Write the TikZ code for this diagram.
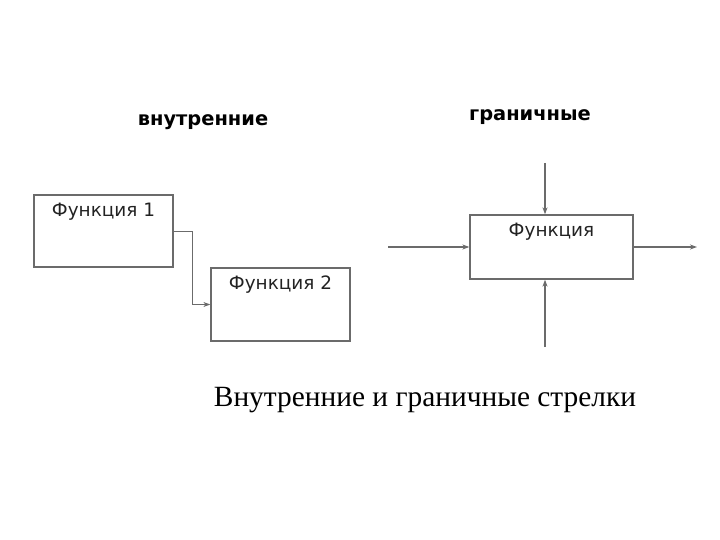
\documentclass[tikz,border=0pt]{standalone}
\usepackage{fontspec}
\setmainfont{Liberation Serif}
\setsansfont{DejaVu Sans}
\usetikzlibrary{arrows.meta, positioning, calc}
\definecolor{cline}{HTML}{6B6B6B}
\definecolor{ctext}{HTML}{222222}
\tikzset{
  every picture/.style={line width=1.3bp},
  box/.style={draw=cline, minimum width=#1, inner sep=0pt},
  box/.default=139bp,
  fn/.style={font=\sffamily\fontsize{18.5}{20}\selectfont, text=ctext, anchor=north, inner sep=8bp},
  arrow/.style={-{Stealth[length=7bp, width=5bp]}, draw=cline},
  title/.style={font=\sffamily\bfseries\fontsize{19.5}{22}\selectfont},
  note/.style={font=\fontsize{29.5}{32}\selectfont},
}
\begin{document}
\begin{tikzpicture}[x=1bp, y=-1bp]
  \useasboundingbox (0,0) rectangle (720,540);
  % internal arrows
  \node[title] (tin) at (203,122) {внутренние};
  \node[box, minimum height=72bp, label={[fn]north:Функция 1}] (f1) at (103.5,231) {};
  \node[box, minimum height=73bp, label={[fn]north:Функция 2}] (f2) at (280.5,304.5) {};
  \draw[arrow, line width=0.9bp] (f1.east) -- ++(19,0) |- (f2.west);
  % boundary arrows
  \node[title] (tbd) at (530,117) {граничные};
  \node[box=163bp, minimum height=64bp, label={[fn]north:Функция}] (f) at (551.5,247) {};
  \coordinate (ctl) at (545,163);
  \coordinate (mech) at (545,347);
  \coordinate (inp) at (388,247);
  \coordinate (out) at (697,247);
  \draw[arrow] (ctl) -- (ctl |- f.north);
  \draw[arrow] (mech) -- (mech |- f.south);
  \draw[arrow] (inp) -- (f.west);
  \draw[arrow] (f.east) -- (out);
  % caption
  \node[note] (cap) at (425,400) {Внутренние и граничные стрелки};
\end{tikzpicture}
\end{document}
